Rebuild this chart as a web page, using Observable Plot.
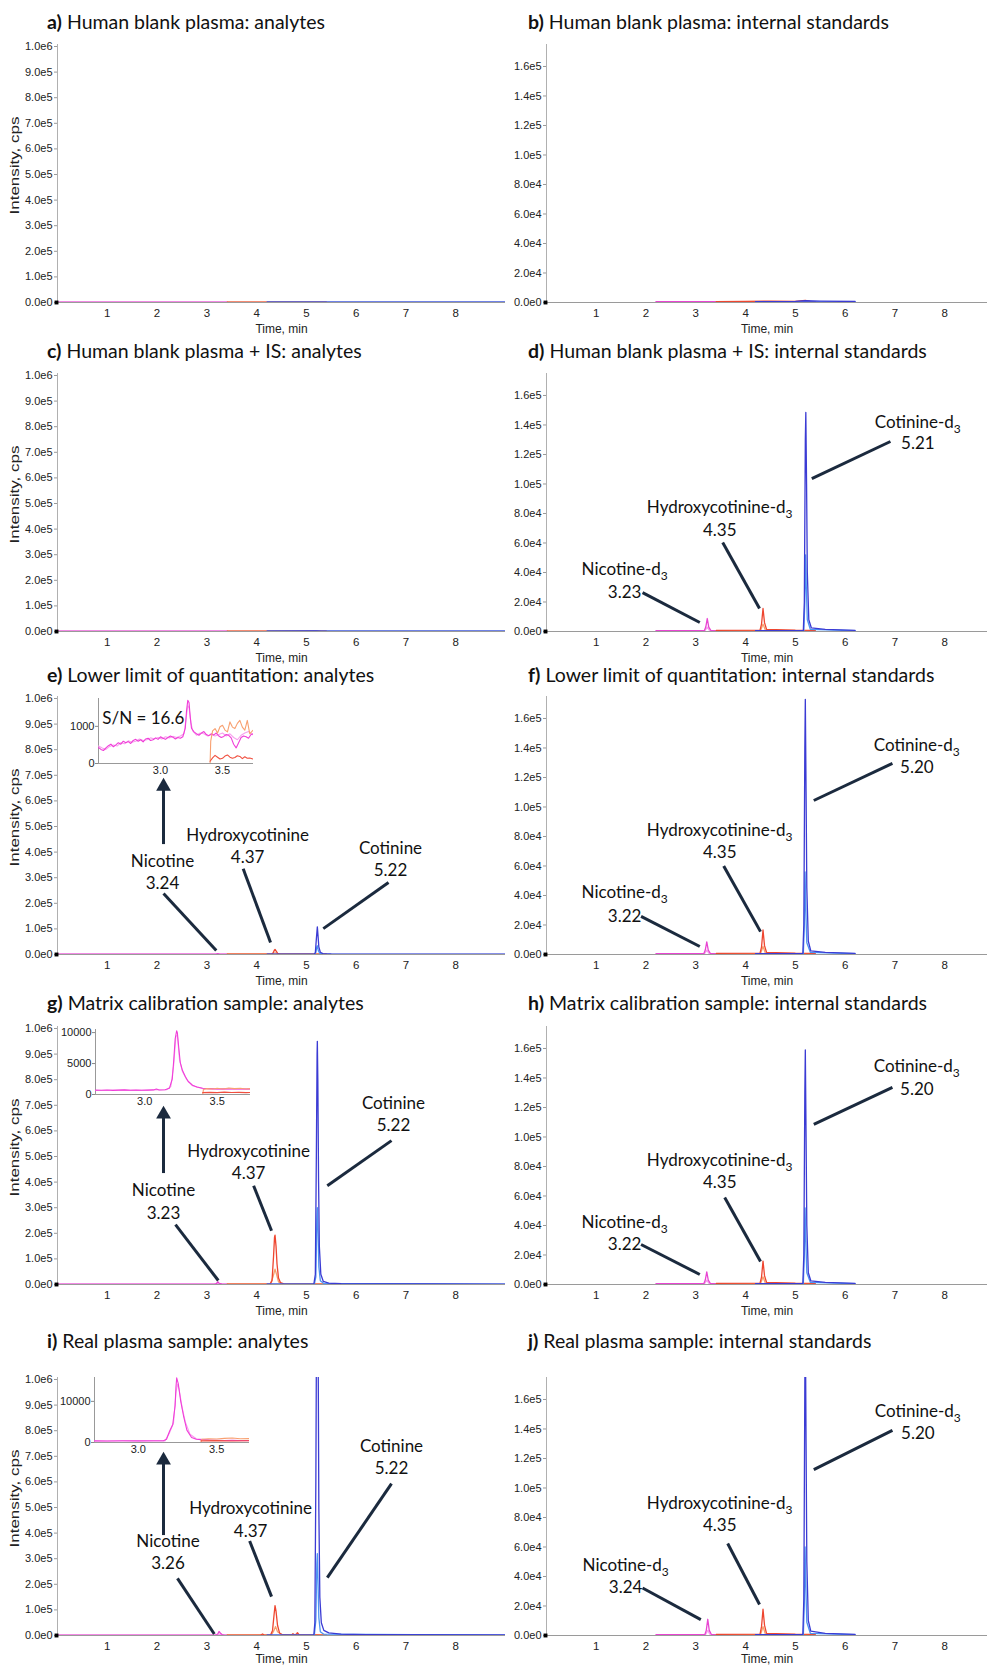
<!DOCTYPE html>
<html><head><meta charset="utf-8">
<script src="https://cdn.jsdelivr.net/npm/d3@7"></script>
<script src="https://cdn.jsdelivr.net/npm/@observablehq/plot@0.6"></script>
<style>
body{margin:0;background:#fff;}
#root{position:relative;width:987px;height:1666px;overflow:hidden;background:#fff;}
.title{position:absolute;font-family:Lato,"Open Sans",sans-serif;font-size:19.5px;color:#111;white-space:nowrap;line-height:22px;}
.panel,.inset{position:absolute;}
</style></head><body><div id="root"></div>
<script>
// ---------------- DATA ----------------
const panelIds = ["a","b","c","d","e","f","g","h","i","j"];
const panelTitles = [
  "Human blank plasma: analytes", "Human blank plasma: internal standards",
  "Human blank plasma + IS: analytes", "Human blank plasma + IS: internal standards",
  "Lower limit of quantitation: analytes", "Lower limit of quantitation: internal standards",
  "Matrix calibration sample: analytes", "Matrix calibration sample: internal standards",
  "Real plasma sample: analytes", "Real plasma sample: internal standards"
];
const leftYTicks = [0,1e5,2e5,3e5,4e5,5e5,6e5,7e5,8e5,9e5,1e6];
const rightYTicks = [0,2e4,4e4,6e4,8e4,1e5,1.2e5,1.4e5,1.6e5];
const xTicks = [1,2,3,4,5,6,7,8];

// traces: [nicotine qual, nicotine, hydroxycotinine qual, hydroxycotinine, cotinine qual, cotinine] as [time, cps]
const A_nicq = [[0,1200],[3.41,1200]];
const A_nicQ = [[0,1800],[3.41,1800]];
const A_hydq = [[3.41,900],[5.4,900]];
const A_hydQ = [[3.41,1500],[5.4,1500]];
const A_cotq = [[4.21,1000],[9,1000]];
const A_cotQ = [[4.21,1500],[9,1500]];

const C_nicq = [[0,1100],[3.41,1100]];
const C_nicQ = [[0,1700],[3.41,1700]];
const C_hydq = [[3.41,900],[5.4,900]];
const C_hydQ = [[3.41,1400],[5.4,1400]];
const C_cotq = [[4.21,1000],[9,1000]];
const C_cotQ = [[4.21,1600],[5.2,2500],[5.3,1600],[9,1500]];

const E_nicq = [[0,1000],[3.41,1000]];
const E_nicQ = [[0,1500],[3.18,1500],[3.22,3000],[3.26,1500],[3.41,1500]];
const E_hydq = [[3.41,2000],[4.30,2000],[4.35,5000],[4.38,6000],[4.42,3000],[4.5,2000],[5.4,2000]];
const E_hydQ = [[3.41,1200],[4.30,1200],[4.33,6000],[4.36,18000],[4.37,20000],[4.39,14000],[4.42,5000],[4.46,1500],[5.4,1200]];
const E_cotq = [[4.21,800],[5.16,800],[5.19,8000],[5.21,30000],[5.22,34000],[5.24,15000],[5.27,4000],[5.35,1500],[9,800]];
const E_cotQ = [[4.21,1200],[5.16,1200],[5.18,8000],[5.20,60000],[5.22,108000],[5.235,70000],[5.25,30000],[5.28,9000],[5.33,3500],[5.5,2000],[9,1200]];

const G_nicq = [[0,1000],[3.15,1000],[3.22,3500],[3.3,1200],[3.41,1000]];
const G_nicQ = [[0,1500],[3.15,1500],[3.19,3000],[3.22,10500],[3.25,4500],[3.3,2000],[3.41,1500]];
const G_hydq = [[3.41,2500],[4.28,2500],[4.33,30000],[4.37,60000],[4.40,40000],[4.44,10000],[4.5,3500],[5.4,2500]];
const G_hydQ = [[3.41,1500],[4.27,1500],[4.31,15000],[4.34,110000],[4.36,185000],[4.37,193000],[4.39,150000],[4.41,80000],[4.44,25000],[4.48,7000],[4.55,2500],[5.4,1500]];
const G_cotq = [[4.21,1000],[5.16,1200],[5.19,30000],[5.21,250000],[5.22,300000],[5.235,200000],[5.25,70000],[5.28,15000],[5.35,4000],[9,1000]];
const G_cotQ = [[4.21,1500],[5.15,2000],[5.18,40000],[5.2,500000],[5.215,900000],[5.22,950000],[5.23,800000],[5.245,400000],[5.26,150000],[5.29,40000],[5.34,12000],[5.45,5000],[5.7,3000],[9,1500]];

const I_nicq = [[0,1000],[3.2,1000],[3.25,5000],[3.3,1500],[3.41,1000]];
const I_nicQ = [[0,1500],[3.17,1500],[3.2,4000],[3.22,6000],[3.245,15500],[3.27,10000],[3.31,3000],[3.36,1500],[3.41,1500]];
const I_hydq = [[3.41,2500],[4.3,2500],[4.35,20000],[4.38,35000],[4.42,15000],[4.5,4000],[4.8,3500],[5.4,2500]];
const I_hydQ = [[3.41,1500],[4.08,1500],[4.12,6000],[4.15,1500],[4.28,1500],[4.32,20000],[4.35,80000],[4.37,117000],[4.39,95000],[4.42,40000],[4.46,10000],[4.52,3000],[4.70,2000],[4.73,7000],[4.76,2500],[4.80,5000],[4.82,11000],[4.85,3000],[5.4,1500]];
const I_cotq = [[4.21,1000],[5.16,1500],[5.19,60000],[5.21,280000],[5.22,320000],[5.235,200000],[5.25,70000],[5.28,15000],[5.35,5000],[9,1200]];
const I_cotQ = [[4.21,1500],[5.15,2500],[5.17,50000],[5.19,600000],[5.21,1500000],[5.23,1400000],[5.25,500000],[5.27,150000],[5.3,50000],[5.35,20000],[5.45,10000],[5.7,5000],[6.2,3000],[9,2000]];

// internal standards
const B_nicq = [[2.2,300],[3.41,300]];
const B_nicQ = [[2.2,500],[3.41,500]];
const B_hydq = [[3.41,400],[5.4,400]];
const B_hydQ = [[3.41,600],[4.0,700],[4.5,1000],[5.0,800],[5.2,1500],[5.3,800],[5.4,600]];
const B_cotq = [[4.2,400],[6.2,400]];
const B_cotQ = [[4.2,600],[5.0,800],[5.2,1200],[5.5,900],[6.2,700]];

const D_nicq = [[2.2,300],[3.18,300],[3.23,3000],[3.28,400],[3.41,300]];
const D_nicQ = [[2.2,500],[3.17,500],[3.2,3000],[3.23,8800],[3.26,3000],[3.30,800],[3.41,600]];
const D_hydq = [[3.41,500],[4.3,500],[4.35,5000],[4.4,700],[5.4,500]];
const D_hydQ = [[3.41,800],[4.29,900],[4.32,5000],[4.35,15600],[4.38,6000],[4.42,1500],[5.0,900],[5.4,800]];
const D_cotq = [[4.2,300],[5.17,400],[5.19,20000],[5.205,52000],[5.22,30000],[5.24,8000],[5.3,1500],[6.2,500]];
const D_cotQ = [[4.2,500],[5.16,600],[5.18,20000],[5.2,130000],[5.21,148500],[5.225,100000],[5.24,40000],[5.27,8000],[5.32,2500],[5.6,1500],[6.2,800]];

const F_nicq = [[2.2,300],[3.17,300],[3.22,3000],[3.27,400],[3.41,300]];
const F_nicQ = [[2.2,500],[3.16,500],[3.19,3000],[3.22,8600],[3.25,3000],[3.29,800],[3.41,600]];
const F_hydq = [[3.41,500],[4.3,500],[4.35,5500],[4.4,700],[5.4,500]];
const F_hydQ = [[3.41,800],[4.29,900],[4.32,5000],[4.35,16600],[4.38,6000],[4.42,1500],[5.0,900],[5.4,800]];
const F_cotq = [[4.2,300],[5.16,400],[5.18,20000],[5.195,56000],[5.21,30000],[5.23,8000],[5.3,1500],[6.2,500]];
const F_cotQ = [[4.2,500],[5.15,600],[5.17,20000],[5.19,140000],[5.20,173000],[5.215,110000],[5.23,45000],[5.26,9000],[5.31,2500],[5.6,1500],[6.2,800]];

const H_nicq = [[2.2,300],[3.17,300],[3.22,3000],[3.27,400],[3.41,300]];
const H_nicQ = [[2.2,500],[3.16,500],[3.19,3000],[3.22,8600],[3.25,3000],[3.29,800],[3.41,600]];
const H_hydq = [[3.41,500],[4.3,500],[4.35,5200],[4.4,700],[5.4,500]];
const H_hydQ = [[3.41,800],[4.29,900],[4.32,5000],[4.35,15900],[4.38,6000],[4.42,1500],[5.0,900],[5.4,800]];
const H_cotq = [[4.2,300],[5.16,400],[5.18,20000],[5.195,52000],[5.21,30000],[5.23,8000],[5.3,1500],[6.2,500]];
const H_cotQ = [[4.2,500],[5.15,600],[5.17,20000],[5.19,130000],[5.20,159000],[5.215,100000],[5.23,40000],[5.26,8000],[5.31,2500],[5.6,1500],[6.2,800]];

const J_nicq = [[2.2,300],[3.19,300],[3.24,3500],[3.29,400],[3.41,300]];
const J_nicQ = [[2.2,500],[3.18,500],[3.21,3500],[3.24,11000],[3.27,3500],[3.31,800],[3.41,600]];
const J_hydq = [[3.41,500],[4.3,500],[4.35,6000],[4.4,700],[5.4,500]];
const J_hydQ = [[3.41,800],[4.29,900],[4.32,6000],[4.35,17800],[4.38,7000],[4.42,1500],[5.0,900],[5.4,800]];
const J_cotq = [[4.2,300],[5.16,400],[5.18,22000],[5.195,60000],[5.21,34000],[5.23,9000],[5.3,1500],[6.2,500]];
const J_cotQ = [[4.2,500],[5.15,600],[5.17,25000],[5.19,170000],[5.20,215000],[5.215,130000],[5.23,50000],[5.26,10000],[5.31,3000],[5.6,1500],[6.2,800]];

// annotations: [text, time, cps]; leaders: [t1, y1, t2, y2]; arrows: [time, baseCps, tipCps]
const E_labels = [["Nicotine",2.11,3.63e5],["3.24",2.11,2.77e5],["Hydroxycotinine",3.82,4.64e5],["4.37",3.82,3.78e5],["Cotinine",6.69,4.13e5],["5.22",6.69,3.28e5]];
const E_leaders = [[2.13,2.38e5,3.19,1.56e4],[3.73,3.35e5,4.28,4.7e4],[6.65,2.81e5,5.34,1.01e5]];
const E_arrow = [[2.13,4.45e5,6.9e5]];
const G_labels = [["Nicotine",2.13,3.67e5],["3.23",2.13,2.77e5],["Hydroxycotinine",3.84,5.19e5],["4.37",3.84,4.33e5],["Cotinine",6.75,7.06e5],["5.22",6.75,6.2e5]];
const G_leaders = [[2.37,2.34e5,3.23,1.56e4],[3.94,3.86e5,4.30,2.1e5],[6.71,5.62e5,5.42,3.86e5]];
const G_arrow = [[2.13,4.49e5,6.98e5]];
const I_labels = [["Nicotine",2.22,3.66e5],["3.26",2.22,2.8e5],["Hydroxycotinine",3.88,4.96e5],["4.37",3.88,4.08e5],["Cotinine",6.71,7.37e5],["5.22",6.71,6.51e5]];
const I_leaders = [[2.41,2.23e5,3.15,6e3],[3.86,3.69e5,4.30,1.52e5],[6.71,5.93e5,5.42,2.26e5]];
const I_arrow = [[2.13,4.06e5,7.18e5]];

const D_labels = [["Cotinine-d3",7.46,1.417e5],["5.21",7.46,1.275e5],["Hydroxycotinine-d3",3.48,8.41e4],["4.35",3.48,6.85e4],["Nicotine-d3",1.57,4.2e4],["3.23",1.57,2.64e4]];
const D_leaders = [[6.91,1.288e5,5.33,1.037e5],[3.54,6.03e4,4.28,1.56e4],[1.93,2.64e4,3.08,6.1e3]];
const F_labels = [["Cotinine-d3",7.44,1.417e5],["5.20",7.44,1.268e5],["Hydroxycotinine-d3",3.48,8.41e4],["4.35",3.48,6.9e4],["Nicotine-d3",1.57,4.2e4],["3.22",1.57,2.58e4]];
const F_leaders = [[6.95,1.295e5,5.37,1.044e5],[3.56,6.0e4,4.30,1.55e4],[1.9,2.58e4,3.08,5.4e3]];
const H_labels = [["Cotinine-d3",7.44,1.478e5],["5.20",7.44,1.322e5],["Hydroxycotinine-d3",3.48,8.41e4],["4.35",3.48,6.9e4],["Nicotine-d3",1.57,4.2e4],["3.22",1.57,2.71e4]];
const H_leaders = [[6.95,1.336e5,5.37,1.085e5],[3.58,5.9e4,4.30,1.56e4],[1.9,2.71e4,3.08,6.8e3]];
const J_labels = [["Cotinine-d3",7.46,1.519e5],["5.20",7.46,1.37e5],["Hydroxycotinine-d3",3.48,8.95e4],["4.35",3.48,7.45e4],["Nicotine-d3",1.59,4.75e4],["3.24",1.59,3.22e4]];
const J_leaders = [[6.95,1.39e5,5.37,1.125e5],[3.64,6.24e4,4.28,2.1e4],[1.93,3.22e4,3.10,1.08e4]];

// insets (zoom of the nicotine window) : [time, cps]
const eIn_mag2 = [[2.50,470],[2.53,420],[2.56,380],[2.59,460],[2.62,500],[2.65,470],[2.68,560],[2.71,530],[2.74,610],[2.77,570],[2.80,600],[2.83,660],[2.86,620],[2.89,640],[2.92,690],[2.95,660],[2.98,700],[3.01,660],[3.04,720],[3.07,690],[3.10,730],[3.13,700],[3.16,740],[3.19,800],[3.21,1300],[3.22,1560],[3.23,1500],[3.245,1100],[3.26,880],[3.29,760],[3.32,820],[3.35,800],[3.38,740],[3.41,780],[3.44,740],[3.47,780],[3.50,820],[3.53,740],[3.56,800],[3.59,700],[3.62,640],[3.65,760],[3.68,820],[3.71,860],[3.75,760]];
const eIn_mag = [[2.50,430],[2.52,380],[2.54,350],[2.56,420],[2.58,480],[2.60,520],[2.62,450],[2.64,500],[2.66,560],[2.68,520],[2.70,600],[2.72,560],[2.74,590],[2.76,540],[2.78,620],[2.80,650],[2.82,600],[2.84,640],[2.86,580],[2.88,660],[2.90,680],[2.92,620],[2.94,640],[2.96,690],[2.98,650],[3.00,720],[3.02,680],[3.04,650],[3.06,700],[3.08,740],[3.10,710],[3.12,660],[3.14,700],[3.16,680],[3.18,720],[3.20,950],[3.21,1420],[3.22,1700],[3.23,1640],[3.24,1250],[3.25,950],[3.27,850],[3.29,800],[3.31,760],[3.33,820],[3.35,860],[3.37,780],[3.39,750],[3.41,800],[3.43,770],[3.45,820],[3.47,740],[3.49,700],[3.51,730],[3.53,780],[3.55,760],[3.57,690],[3.59,520],[3.61,420],[3.63,560],[3.65,700],[3.67,740],[3.69,720],[3.71,680],[3.73,780],[3.75,800]];
const eIn_orange = [[3.40,0],[3.405,600],[3.42,880],[3.44,940],[3.46,820],[3.48,990],[3.50,1030],[3.52,900],[3.54,850],[3.56,1120],[3.58,980],[3.60,940],[3.62,1080],[3.64,1160],[3.66,980],[3.68,900],[3.70,1160],[3.72,800],[3.745,890]];
const eIn_red = [[3.40,60],[3.42,150],[3.44,220],[3.46,170],[3.48,120],[3.50,140],[3.52,200],[3.54,230],[3.56,170],[3.58,140],[3.60,160],[3.62,210],[3.64,190],[3.66,130],[3.68,180],[3.70,140],[3.72,150],[3.745,120]];

const gIn_mag2 = [[2.66,650],[2.75,680],[2.85,700],[2.95,660],[3.05,720],[3.15,760],[3.18,1300],[3.20,4800],[3.215,9400],[3.225,9600],[3.24,5600],[3.26,3700],[3.29,2400],[3.33,1400],[3.4,950],[3.5,850],[3.6,880],[3.73,860]];
const gIn_mag = [[2.66,700],[2.70,680],[2.74,720],[2.78,660],[2.82,700],[2.86,740],[2.90,690],[2.94,720],[2.98,680],[3.02,700],[3.06,740],[3.08,900],[3.10,720],[3.14,760],[3.17,1000],[3.19,2500],[3.20,5500],[3.21,9000],[3.22,10300],[3.225,10000],[3.235,7500],[3.245,5200],[3.26,3900],[3.28,2900],[3.30,2100],[3.33,1500],[3.36,1200],[3.40,1000],[3.45,950],[3.50,900],[3.55,920],[3.60,880],[3.65,900],[3.70,880],[3.73,900]];
const gIn_orange = [[3.40,0],[3.405,800],[3.43,950],[3.47,880],[3.50,1000],[3.54,900],[3.58,1050],[3.62,950],[3.66,1000],[3.70,900],[3.73,950]];
const gIn_red = [[3.40,300],[3.45,350],[3.50,300],[3.55,380],[3.60,320],[3.65,350],[3.70,300],[3.73,330]];

const iIn_mag2 = [[2.72,350],[2.90,370],[3.10,360],[3.17,400],[3.20,2400],[3.225,4800],[3.24,12000],[3.25,14200],[3.26,13000],[3.28,8500],[3.30,5000],[3.33,2000],[3.37,900],[3.5,500],[3.71,460]];
const iIn_mag = [[2.72,400],[2.80,380],[2.90,420],[3.00,400],[3.10,430],[3.16,420],[3.18,800],[3.20,2800],[3.22,4400],[3.235,9000],[3.24,13300],[3.245,15700],[3.25,15000],[3.255,14300],[3.27,10200],[3.29,6200],[3.31,3000],[3.34,1200],[3.37,800],[3.40,700],[3.45,600],[3.50,550],[3.55,500],[3.60,520],[3.65,480],[3.71,500]];
const iIn_orange = [[3.40,0],[3.405,800],[3.45,900],[3.50,850],[3.55,1000],[3.60,1100],[3.65,900],[3.71,950]];
const iIn_red = [[3.40,400],[3.50,450],[3.60,380],[3.71,420]];

// ---------------- STYLE / LAYOUT ----------------
const traceColors = ["#f7a3ee", "#e845d2", "#f6a26e", "#ee4630", "#4d95f2", "#3b3bd4"];
const insetColors = ["#f7a0ee", "#f03ed8", "#f8a070", "#f05040"];
const NAVY = "#1b2a3e";
const ZERO = [302, 631, 954, 1284, 1635];
const TITLE_Y = [22, 351, 675, 1003, 1341];
const TIME_DY = [30, 30, 30, 30, 27];
const PH = 258;
const AXFONT = "'Liberation Sans', Arial, sans-serif";
const ANFONT = "Lato, 'Open Sans', sans-serif";
const fmtExp = d => d.toExponential(1).replace("e+", "e");
const root = document.getElementById("root");

function place(el, left, top) { el.style.left = left + "px"; el.style.top = top + "px"; }

function fixSvg(svg) {
  svg.querySelectorAll("text").forEach(t => {
    if (t.childElementCount === 0 && /-d3$/.test(t.textContent)) {
      const s = t.textContent;
      t.textContent = s.slice(0, -1);
      const ts = document.createElementNS("http://www.w3.org/2000/svg", "tspan");
      ts.setAttribute("font-size", "12");
      ts.setAttribute("dy", "5");
      ts.textContent = "3";
      t.appendChild(ts);
    }
    if (t.textContent === "Intensity, cps") {
      t.setAttribute("textLength", "98");
      t.setAttribute("lengthAdjust", "spacingAndGlyphs");
    }
  });
}

function mainPanel(side, row, traces, labels, leaders, arrow) {
  const L = side === "L";
  const mt = 4, mb = 40;
  const marks = [
    Plot.ruleY([0], {stroke: "#9a9a9a"}),
    Plot.ruleX([0], {stroke: "#b0b0b0"}),
    Plot.axisY({ticks: L ? leftYTicks : rightYTicks, tickFormat: fmtExp, tickSize: 3, tickPadding: 2, stroke: "#999", fill: "#222", fontSize: 11, label: null}),
    Plot.axisX({ticks: xTicks, tickFormat: d => String(d), tickSize: 0, tickPadding: 6, fill: "#222", fontSize: 11.5, label: null}),
    Plot.text(["Time, min"], {frameAnchor: "bottom", dy: TIME_DY[row], fontSize: 12, fill: "#222"})
  ];
  if (L) marks.push(Plot.text(["Intensity, cps"], {frameAnchor: "left", textAnchor: "middle", dx: -43, dy: -8, rotate: -90, fontSize: 13, fill: "#222"}));
  traces.forEach((tr, k) => marks.push(Plot.line(tr, {x: d => d[0], y: d => d[1], stroke: traceColors[k], strokeWidth: 1.3, clip: true})));
  marks.push(Plot.dot([[0, 0]], {x: d => d[0], y: d => d[1], symbol: "square", r: 2.2, fill: "#000", dx: -1}));
  if (labels) marks.push(Plot.text(labels, {x: d => d[1], y: d => d[2], text: d => d[0], fontFamily: ANFONT, fontSize: 17, fill: "#111"}));
  if (leaders) marks.push(Plot.link(leaders, {x1: d => d[0], y1: d => d[1], x2: d => d[2], y2: d => d[3], stroke: NAVY, strokeWidth: 3}));
  if (arrow) {
    marks.push(Plot.ruleX(arrow, {x: d => d[0], y1: d => d[1], y2: d => d[2], stroke: NAVY, strokeWidth: 3, dy: 4}));
    marks.push(Plot.dot(arrow, {x: d => d[0], y: d => d[2], symbol: "triangle", r: 5.5, fill: NAVY, dy: 8.5}));
  }
  const svg = Plot.plot({
    width: L ? 510 : 497, height: mt + PH + mb,
    marginLeft: L ? 57 : 56, marginRight: L ? 5 : 0, marginTop: mt, marginBottom: mb,
    x: {domain: L ? [0, 9] : [0, 8.86]},
    y: {domain: [0, L ? 1.0078e6 : 1.749e5]},
    style: {fontFamily: AXFONT, fontSize: "12px", background: "transparent", overflow: "visible", color: "#222"},
    marks
  });
  fixSvg(svg);
  const div = document.createElement("div");
  div.className = "panel";
  place(div, L ? 0 : 490, ZERO[row] - PH - mt);
  div.appendChild(svg);
  root.appendChild(div);
}

function insetPanel(left, top, xdom, ydom, yticks, traces, extra) {
  const ml = 40, mt = 3, mr = 3, mb = 18;
  const marks = [
    Plot.ruleY([0], {stroke: "#999"}),
    Plot.ruleX([xdom[0]], {stroke: "#999"}),
    Plot.axisY({ticks: yticks, tickSize: 3, tickPadding: 1, tickFormat: d => String(d), stroke: "#888", fill: "#222", label: null}),
    Plot.axisX({ticks: [3.0, 3.5], tickSize: 0, tickPadding: 3, tickFormat: d => d.toFixed(1), fill: "#222", label: null})
  ];
  traces.forEach((tr, k) => marks.push(Plot.line(tr, {x: d => d[0], y: d => d[1], stroke: insetColors[k], strokeWidth: 1.1, clip: true})));
  if (extra) marks.push(...extra);
  const svg = Plot.plot({
    width: ml + 155 + mr, height: mt + 65 + mb,
    marginLeft: ml, marginRight: mr, marginTop: mt, marginBottom: mb,
    x: {domain: xdom}, y: {domain: ydom},
    style: {fontFamily: AXFONT, fontSize: "11px", background: "transparent", overflow: "visible", color: "#222"},
    marks
  });
  const div = document.createElement("div");
  div.className = "inset";
  place(div, left - ml, top - mt);
  div.appendChild(svg);
  root.appendChild(div);
}

// titles
panelIds.forEach((id, k) => {
  const d = document.createElement("div");
  d.className = "title";
  d.innerHTML = `<b>${id})</b> ${panelTitles[k]}`;
  place(d, k % 2 === 0 ? 47 : 528, TITLE_Y[Math.floor(k / 2)] - 11);
  root.appendChild(d);
});

// main panels
mainPanel("L", 0, [A_nicq, A_nicQ, A_hydq, A_hydQ, A_cotq, A_cotQ]);
mainPanel("R", 0, [B_nicq, B_nicQ, B_hydq, B_hydQ, B_cotq, B_cotQ]);
mainPanel("L", 1, [C_nicq, C_nicQ, C_hydq, C_hydQ, C_cotq, C_cotQ]);
mainPanel("R", 1, [D_nicq, D_nicQ, D_hydq, D_hydQ, D_cotq, D_cotQ], D_labels, D_leaders);
mainPanel("L", 2, [E_nicq, E_nicQ, E_hydq, E_hydQ, E_cotq, E_cotQ], E_labels, E_leaders, E_arrow);
mainPanel("R", 2, [F_nicq, F_nicQ, F_hydq, F_hydQ, F_cotq, F_cotQ], F_labels, F_leaders);
mainPanel("L", 3, [G_nicq, G_nicQ, G_hydq, G_hydQ, G_cotq, G_cotQ], G_labels, G_leaders, G_arrow);
mainPanel("R", 3, [H_nicq, H_nicQ, H_hydq, H_hydQ, H_cotq, H_cotQ], H_labels, H_leaders);
mainPanel("L", 4, [I_nicq, I_nicQ, I_hydq, I_hydQ, I_cotq, I_cotQ], I_labels, I_leaders, I_arrow);
mainPanel("R", 4, [J_nicq, J_nicQ, J_hydq, J_hydQ, J_cotq, J_cotQ], J_labels, J_leaders);

// insets
insetPanel(98, 698, [2.5, 3.75], [0, 1750], [0, 1000], [eIn_mag2, eIn_mag, eIn_orange, eIn_red],
  [Plot.text([["S/N = 16.6", 2.53, 1216]], {x: d => d[1], y: d => d[2], text: d => d[0], textAnchor: "start", fontFamily: ANFONT, fontSize: 17, fill: "#111"})]);
insetPanel(95, 1029, [2.66, 3.73], [0, 10500], [0, 5000, 10000], [gIn_mag2, gIn_mag, gIn_orange, gIn_red]);
insetPanel(94, 1377, [2.72, 3.71], [0, 15800], [0, 10000], [iIn_mag2, iIn_mag, iIn_orange, iIn_red]);
</script></body></html>
